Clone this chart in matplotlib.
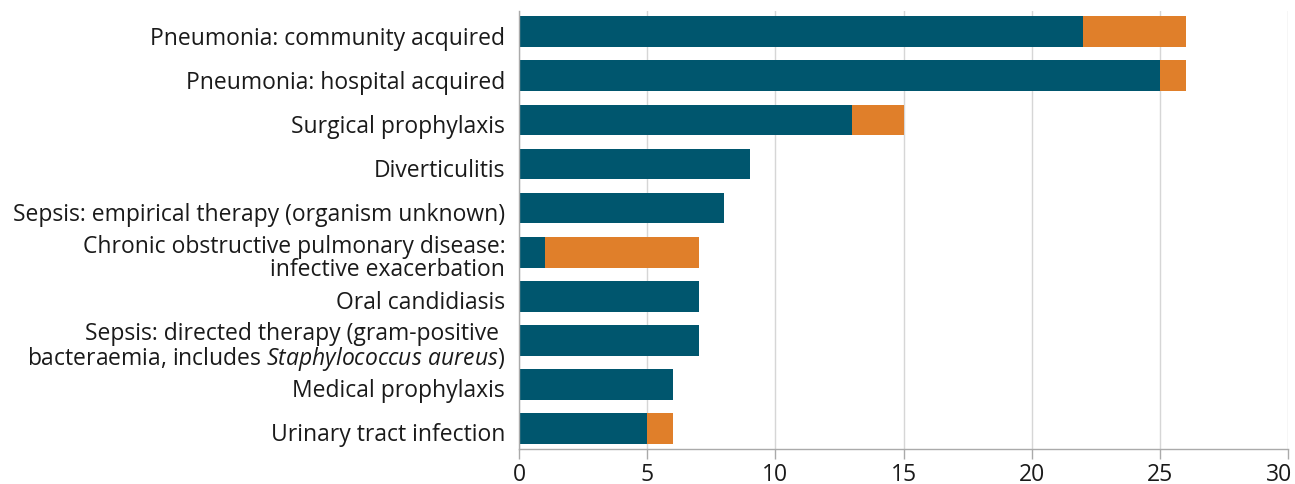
import matplotlib.pyplot as plt
from matplotlib.transforms import ScaledTranslation

# Data
categories = [
    "Pneumonia: community acquired",
    "Pneumonia: hospital acquired",
    "Surgical prophylaxis",
    "Diverticulitis",
    "Sepsis: empirical therapy (organism unknown)",
    "Chronic obstructive pulmonary disease:\ninfective exacerbation",
    "Oral candidiasis",
    "Sepsis: directed therapy (gram-positive \nbacteraemia, includes $\\it{Staphylococcus\\ aureus}$)",
    "Medical prophylaxis",
    "Urinary tract infection",
]
first_values = [22, 25, 13, 9, 8, 1, 7, 7, 6, 5]
second_values = [4, 1, 2, 0, 0, 6, 0, 0, 0, 1]
x_ticks = [0, 5, 10, 15, 20, 25, 30]

teal = "#00566e"
orange = "#e07f2a"

plt.rcParams['font.family'] = ['Open Sans', 'DejaVu Sans']
plt.rcParams['mathtext.fontset'] = 'custom'
plt.rcParams['mathtext.rm'] = 'Open Sans'
plt.rcParams['mathtext.it'] = 'Open Sans:italic'

fig = plt.figure(figsize=(12.95, 4.85), dpi=100)
ax = fig.add_axes([0.4008, 0.072, 0.594, 0.903])

y = list(range(len(categories)))
ax.barh(y, first_values, height=0.70, color=teal, zorder=3)
ax.barh(y, second_values, left=first_values, height=0.70, color=orange, zorder=3)

ax.set_xlim(0, 30)
ax.set_ylim(9.47, -0.47)
ax.set_xticks(x_ticks)
ax.set_yticks(y)
ax.set_yticklabels(categories, fontsize=16.5, color="#1a1a1a", linespacing=0.92)
ax.tick_params(axis='y', length=0, pad=10)
ax.tick_params(axis='x', length=7, width=1, color="#aaaaaa", labelsize=16.5,
               labelcolor="#1a1a1a", pad=2.5)

# labels sit slightly below bar centres in the reference
for lab in ax.get_yticklabels():
    lab.set_transform(lab.get_transform() + ScaledTranslation(0, -3 / 100, fig.dpi_scale_trans))

# keep the last tick label inside the figure
last = ax.get_xticklabels()[-1]
last.set_transform(last.get_transform() + ScaledTranslation(-9 / 100, 0, fig.dpi_scale_trans))

ax.grid(axis='x', color="#d6d6d6", linewidth=1, zorder=0)
for s in ['top', 'right']:
    ax.spines[s].set_visible(False)
for s in ['left', 'bottom']:
    ax.spines[s].set_color("#aaaaaa")
    ax.spines[s].set_linewidth(1)
ax.spines['left'].set_zorder(4)

plt.savefig("out.png", dpi=100)
